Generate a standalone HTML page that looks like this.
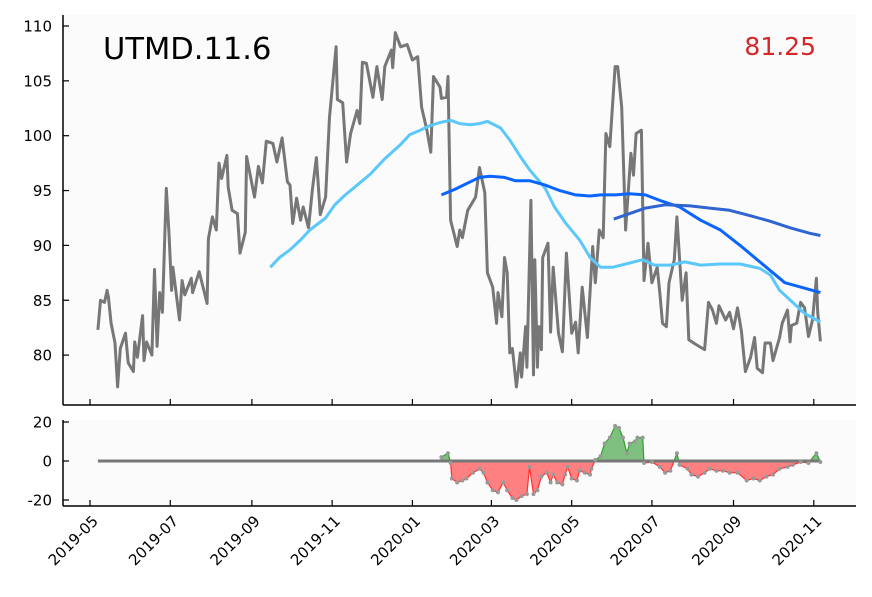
<!DOCTYPE html>
<html><head><meta charset="utf-8"><style>
body{margin:0;background:#fff;}
svg{display:block;font-family:"DejaVu Sans","Liberation Sans",sans-serif;}
</style></head><body>
<svg id="chart" width="872" height="597" viewBox="0 0 872 597">
<rect x="63" y="15" width="793" height="390" fill="#fbfbfb"/>
<rect x="63" y="420" width="793" height="86" fill="#fbfbfb"/>
<g id="main"></g><g id="lower"></g><g id="axes"></g>
<text x="103" y="59" font-size="30.5" fill="#000">UTMD.11.6</text>
<text x="816" y="55" font-size="25" fill="#d62728" text-anchor="end">81.25</text>
</svg>
<script>
const priceDays=[6,8,11,13,14,16,19,21,23,27,29,33,34,36,40,41,43,47,49,51,53,55,58,60,62,63,68,70,72,77,78,83,89,90,93,96,98,100,104,105,108,112,114,118,119,125,128,131,134,139,142,146,150,152,154,157,160,162,166,169,172,175,179,182,187,188,192,195,198,203,205,207,210,215,218,222,224,229,230,232,236,241,245,249,252,256,259,261,266,267,271,272,274,279,281,283,287,293,296,300,302,306,309,310,313,315,317,319,321,324,327,328,331,332,335,337,338,340,341,343,344,348,350,352,356,359,362,366,369,371,374,378,382,384,387,390,392,395,399,401,404,407,411,413,415,419,421,424,427,431,433,435,438,440,444,446,450,453,455,460,467,470,473,476,478,483,486,489,492,495,498,502,505,507,511,513,517,519,524,526,530,532,533,537,540,543,546,549,552,553,555];
const priceVals=[82.3,85.0,84.8,85.9,85.3,82.9,81.1,77.1,80.6,82.0,79.3,78.5,81.2,79.8,83.6,79.5,81.2,80.0,87.8,80.8,85.7,83.9,95.2,91.1,85.9,88.0,83.2,86.8,85.5,87.0,85.7,87.6,84.7,90.6,92.6,91.4,97.5,96.1,98.2,95.3,93.2,92.9,89.3,91.2,98.1,94.4,97.2,95.7,99.5,99.3,97.6,99.8,95.8,95.5,92.0,94.3,92.3,93.5,91.6,95.1,98.0,92.8,94.4,101.7,108.1,103.3,103.0,97.6,100.2,102.3,101.1,106.7,106.6,103.5,106.3,103.3,106.3,107.8,106.2,109.4,108.1,108.3,106.9,107.2,102.6,100.5,98.5,105.4,104.4,103.4,103.5,105.4,92.3,89.9,91.4,90.7,93.2,94.4,97.1,94.8,87.5,86.2,82.9,85.7,83.5,88.9,87.5,80.2,80.6,77.1,80.2,78.0,82.6,78.9,94.1,78.2,88.7,78.9,82.6,80.5,88.9,90.2,82.1,88.0,82.0,80.3,89.3,82.0,83.0,80.2,86.2,81.6,89.9,86.6,91.4,90.7,100.2,99.0,106.3,106.3,102.6,91.4,98.4,96.4,100.2,100.5,86.8,90.2,86.6,88.0,85.7,82.9,82.6,86.6,88.7,92.6,85.0,87.5,81.4,81.0,80.5,84.8,84.1,82.9,84.5,83.2,83.9,82.4,84.3,82.2,78.5,79.8,81.6,78.8,78.4,81.1,81.1,79.5,81.6,82.9,84.1,81.2,82.7,82.9,84.8,84.3,81.7,83.2,87.0,83.9,81.25];
const maLongDays=[137,144,152,160,167,179,186,194,201,213,224,236,243,251,258,266,274,281,289,296,302,312,319,327,334,346,353,361,372,380,388,397,410,420,429,441,452,464,479,494,509,517,524,534,543,555];
const maLongVals=[88.0,88.9,89.6,90.5,91.4,92.5,93.7,94.6,95.3,96.5,97.9,99.2,100.1,100.5,100.9,101.2,101.4,101.1,101.0,101.1,101.3,100.7,99.6,98.1,96.9,95.2,93.5,92.1,90.5,88.9,88.0,88.0,88.4,88.7,88.2,88.2,88.5,88.2,88.3,88.3,87.9,87.3,85.9,84.8,83.8,83.0];
const maMidDays=[267,277,289,296,304,315,323,334,346,357,369,380,388,399,410,422,433,448,464,479,494,509,528,540,555];
const maMidVals=[94.6,95.1,95.8,96.2,96.3,96.2,95.9,95.9,95.5,95.0,94.6,94.5,94.6,94.6,94.7,94.6,94.1,93.5,92.3,91.4,90.0,88.5,86.6,86.2,85.7];
const maDarkDays=[398,410,422,437,456,471,486,502,517,532,547,555];
const maDarkVals=[92.4,92.9,93.4,93.7,93.6,93.4,93.2,92.7,92.2,91.6,91.1,90.9];
const oscDays=[267,272,274,275,279,283,286,291,296,299,302,306,310,314,317,321,324,328,332,334,337,340,343,347,350,352,355,359,361,363,366,370,372,376,380,381,384,388,391,395,399,402,405,408,410,414,416,420,421,427,433,437,441,446,448,454,457,462,467,471,476,481,486,492,499,504,509,514,519,524,530,534,540,546,552,555];
const oscVals=[2,4,-1,-9,-11,-10,-9,-6,-4,-6,-11,-15,-16,-11,-15,-19,-20,-18,-17,-3,-17,-15,-8,-6,-11,-7,-11,-12,-7,-3,-9,-10,-5,-6,-7,-4,0.5,2.5,9,12,18,17,12,4,9,10,12,12,-1,-0.5,-3,-6,-5,4,-2,-4,-7,-8,-6,-4,-5,-5,-6,-6,-10,-9,-10,-8,-7,-4,-3,-2,-0.5,-1,4,-0.5];
const yTicks=[80,85,90,95,100,105,110];
const oscTicks=[-20,0,20];
const xTickLabels=["2019-05","2019-07","2019-09","2019-11","2020-01","2020-03","2020-05","2020-07","2020-09","2020-11"];

const NS="http://www.w3.org/2000/svg";
const base=Date.UTC(2019,4,1);
const X=d=>90+d*1.316;
const Y=v=>26+(110-v)*10.97;
const Yo=v=>461-v*1.95;
function mk(tag,attrs,parent){const e=document.createElementNS(NS,tag);for(const k in attrs)e.setAttribute(k,attrs[k]);parent.appendChild(e);return e;}
const main=document.getElementById('main'),lower=document.getElementById('lower'),axes=document.getElementById('axes');
function line(days,vals,yf,color,w,name,parent){
  const p=mk('polyline',{points:days.map((d,i)=>X(d).toFixed(1)+','+yf(vals[i]).toFixed(1)).join(' '),fill:'none',stroke:color,'stroke-width':w,'stroke-linejoin':'round'},parent);
  
  
  return p;
}
line(priceDays,priceVals,Y,'#777','3','price-line',main);
line(maLongDays,maLongVals,Y,'#5ac8fa','3','ma-long-line',main);
line(maMidDays,maMidVals,Y,'#0a64ff','3','ma-mid-line',main);
line(maDarkDays,maDarkVals,Y,'#2f64d2','3','ma-dark-line',main);

const defs=mk('defs',{},lower);
const c1=mk('clipPath',{id:'cpos'},defs);mk('rect',{x:0,y:0,width:872,height:Yo(0)},c1);
const c2=mk('clipPath',{id:'cneg'},defs);mk('rect',{x:0,y:Yo(0),width:872,height:200},c2);
const areaPts=X(oscDays[0])+','+Yo(0)+' '+oscDays.map((d,i)=>X(d).toFixed(1)+','+Yo(oscVals[i]).toFixed(1)).join(' ')+' '+X(oscDays[oscDays.length-1])+','+Yo(0);
const pos=mk('polygon',{points:areaPts,fill:'#7fbf7f',stroke:'#2ca02c','stroke-width':1.2,'clip-path':'url(#cpos)'},lower);


const neg=mk('polygon',{points:areaPts,fill:'#ff8080',stroke:'#ff3030','stroke-width':1.2,'clip-path':'url(#cneg)'},lower);


const zl=mk('line',{x1:X(6),x2:X(555),y1:Yo(0),y2:Yo(0),stroke:'#777','stroke-width':3},lower);


oscDays.forEach((d,i)=>{
  const c=mk('circle',{cx:X(d),cy:Yo(oscVals[i]),r:2,fill:'#999'},lower);
  
  
});

function ax(x1,y1,x2,y2,name){const l=mk('line',{x1,y1,x2,y2,stroke:'#000','stroke-width':1.5},axes);}
ax(63,15,63,405,'main-y-axis');ax(63,405,856,405,'main-x-axis');
ax(63,420,63,506,'osc-y-axis');ax(63,506,856,506,'osc-x-axis');
yTicks.forEach(v=>{
  mk('line',{x1:63,x2:69,y1:Y(v),y2:Y(v),stroke:'#000','stroke-width':1.2},axes);
  const t=mk('text',{x:52,y:Y(v)+5.5,'font-size':15,'text-anchor':'end'},axes);t.textContent=v;
  
  
});
oscTicks.forEach(v=>{
  mk('line',{x1:63,x2:69,y1:Yo(v),y2:Yo(v),stroke:'#000','stroke-width':1.2},axes);
  const t=mk('text',{x:52,y:Yo(v)+5.5,'font-size':15,'text-anchor':'end'},axes);t.textContent=v;
  
  
});
xTickLabels.forEach(s=>{
  const [yy,mm]=s.split('-').map(Number);
  const d=(Date.UTC(yy,mm-1,1)-base)/86400000;
  const x=X(d);
  mk('line',{x1:x,x2:x,y1:399,y2:405,stroke:'#000','stroke-width':1.2},axes);
  mk('line',{x1:x,x2:x,y1:500,y2:506,stroke:'#000','stroke-width':1.2},axes);
  const ax0=x+9, ay0=522;
  const t=mk('text',{x:ax0,y:ay0,'font-size':15,'text-anchor':'end',transform:`rotate(-45 ${ax0} ${ay0})`},axes);t.textContent=s;
  
  
});
</script>
</body></html>
